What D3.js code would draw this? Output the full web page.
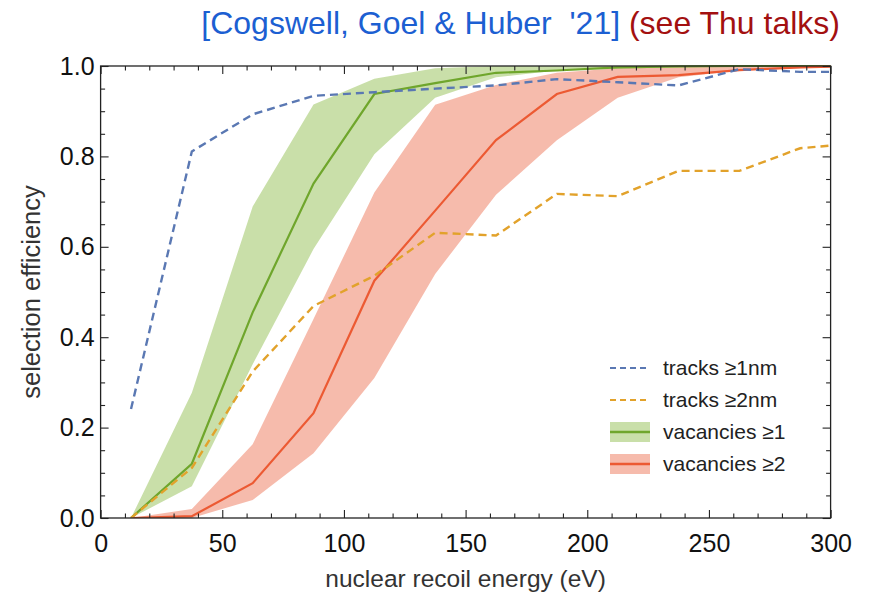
<!DOCTYPE html>
<html>
<head>
<meta charset="utf-8">
<script src="https://cdn.jsdelivr.net/npm/d3@7"></script>
<style>
  html, body { margin: 0; padding: 0; background: #fff; }
  svg { display: block; }
  text { font-family: "Liberation Sans", Arial, Helvetica, sans-serif; }
</style>
</head>
<body>
<script>
// Recoil energies (eV) at which each selection was evaluated
const energy = [12.5, 37.5, 62.5, 87.5, 112.5, 137.5, 162.5, 187.5, 212.5, 237.5, 262.5, 287.5, 312.5];

// Track-length selections
const tracks1nm = [0.241, 0.811, 0.893, 0.934, 0.942, 0.950, 0.957, 0.971, 0.964, 0.957, 0.993, 0.987, 0.987];
const tracks2nm = [0.0, 0.111, 0.324, 0.469, 0.536, 0.631, 0.625, 0.717, 0.712, 0.768, 0.768, 0.818, 0.830];

// Vacancy selections: central value with lower / upper band
const vac1   = [0.0, 0.120, 0.455, 0.740, 0.938, 0.962, 0.985, 0.990, 0.997, 0.999, 1.0, 1.0, 1.0];
const vac1Lo = [0.0, 0.070, 0.340, 0.595, 0.805, 0.930, 0.975, 0.990, 0.994, 0.997, 0.999, 1.0, 1.0];
const vac1Hi = [0.0, 0.277, 0.689, 0.915, 0.972, 0.995, 1.0, 1.0, 1.0, 1.0, 1.0, 1.0, 1.0];

const vac2   = [0.0, 0.004, 0.077, 0.232, 0.525, 0.680, 0.836, 0.938, 0.976, 0.980, 0.991, 0.997, 1.0];
const vac2Lo = [0.0, 0.0, 0.040, 0.143, 0.310, 0.540, 0.715, 0.836, 0.930, 0.975, 0.990, 0.995, 1.0];
const vac2Hi = [0.0, 0.020, 0.163, 0.440, 0.720, 0.914, 0.958, 0.985, 0.995, 0.998, 1.0, 1.0, 1.0];

// Axis ticks
const xMajor = [0, 50, 100, 150, 200, 250, 300];
const xMinor = d3.range(0, 301, 10).filter(v => v % 50 !== 0);
const yMajor = [0, 0.2, 0.4, 0.6, 0.8, 1.0];
const yMinor = d3.range(0, 1.0001, 0.05).map(v => +v.toFixed(2)).filter(v => Math.round(v * 100) % 20 !== 0);

const legendLabels = ["tracks \u22651nm", "tracks \u22652nm", "vacancies \u22651", "vacancies \u22652"];

const W = 871, H = 604;
const pLeft = 100.6, pRight = 830.6, pTop = 66, pBottom = 518;

const svg = d3.select("body").append("svg").attr("width", W).attr("height", H);

const x = d3.scaleLinear().domain([0, 300]).range([pLeft, pRight]);
const y = d3.scaleLinear().domain([0, 1]).range([pBottom, pTop]);

const colors = {
  blue: "#5a78b3",
  gold: "#e2a22b",
  green: "#6fa62c",
  greenBand: "rgba(140,186,72,0.47)",
  red: "#ec5a33",
  redBand: "rgba(236,104,72,0.45)"
};

svg.append("defs").append("clipPath").attr("id", "plot-clip")
  .append("rect").attr("x", pLeft).attr("y", pTop - 1).attr("width", pRight - pLeft).attr("height", pBottom - pTop + 1);

const plot = svg.append("g").attr("clip-path", "url(#plot-clip)");

const rows = energy.map((e, i) => ({
  e, t1: tracks1nm[i], t2: tracks2nm[i],
  v1: vac1[i], v1lo: vac1Lo[i], v1hi: vac1Hi[i],
  v2: vac2[i], v2lo: vac2Lo[i], v2hi: vac2Hi[i]
}));

const band = (lo, hi) => d3.area().x(d => x(d.e)).y0(d => y(d[lo])).y1(d => y(d[hi]));
const line = key => d3.line().x(d => x(d.e)).y(d => y(d[key]));

// Uncertainty bands
plot.append("path").datum(rows).attr("d", band("v2lo", "v2hi")).attr("fill", colors.redBand);
plot.append("path").datum(rows).attr("d", band("v1lo", "v1hi")).attr("fill", colors.greenBand);

// Central vacancy curves
plot.append("path").datum(rows).attr("d", line("v1"))
  .attr("fill", "none").attr("stroke", colors.green).attr("stroke-width", 2.2);
plot.append("path").datum(rows).attr("d", line("v2"))
  .attr("fill", "none").attr("stroke", colors.red).attr("stroke-width", 2.2);

// Track curves (dashed)
plot.append("path").datum(rows).attr("d", line("t2"))
  .attr("fill", "none").attr("stroke", colors.gold).attr("stroke-width", 2.4)
  .attr("stroke-dasharray", "8,5");
plot.append("path").datum(rows).attr("d", line("t1"))
  .attr("fill", "none").attr("stroke", colors.blue).attr("stroke-width", 2.4)
  .attr("stroke-dasharray", "8,5");

// Frame and inward ticks on all four sides
const frame = svg.append("g").attr("class", "frame");
const tickStyle = g => {
  g.select(".domain").remove();
  g.selectAll(".tick line").attr("stroke", "#222").attr("stroke-width", 1.1);
};

frame.append("g").attr("transform", `translate(0,${pBottom})`)
  .call(d3.axisBottom(x).tickValues(xMajor).tickSize(-8).tickPadding(16).tickFormat(d3.format("d")))
  .call(tickStyle)
  .call(g => g.selectAll(".tick text").attr("font-size", 25).attr("fill", "#111")
    .attr("font-family", "'Liberation Sans', Arial, sans-serif"));
frame.append("g").attr("transform", `translate(0,${pBottom})`)
  .call(d3.axisBottom(x).tickValues(xMinor).tickSize(-4.5).tickFormat(""))
  .call(tickStyle);
frame.append("g").attr("transform", `translate(0,${pTop})`)
  .call(d3.axisTop(x).tickValues(xMajor).tickSize(-8).tickFormat(""))
  .call(tickStyle);
frame.append("g").attr("transform", `translate(0,${pTop})`)
  .call(d3.axisTop(x).tickValues(xMinor).tickSize(-4.5).tickFormat(""))
  .call(tickStyle);

frame.append("g").attr("transform", `translate(${pLeft},0)`)
  .call(d3.axisLeft(y).tickValues(yMajor).tickSize(-8).tickPadding(6).tickFormat(d3.format(".1f")))
  .call(tickStyle)
  .call(g => g.selectAll(".tick text").attr("font-size", 25).attr("fill", "#111")
    .attr("font-family", "'Liberation Sans', Arial, sans-serif"));
frame.append("g").attr("transform", `translate(${pLeft},0)`)
  .call(d3.axisLeft(y).tickValues(yMinor).tickSize(-4.5).tickFormat(""))
  .call(tickStyle);
frame.append("g").attr("transform", `translate(${pRight},0)`)
  .call(d3.axisRight(y).tickValues(yMajor).tickSize(-8).tickFormat(""))
  .call(tickStyle);
frame.append("g").attr("transform", `translate(${pRight},0)`)
  .call(d3.axisRight(y).tickValues(yMinor).tickSize(-4.5).tickFormat(""))
  .call(tickStyle);

frame.append("rect").attr("x", pLeft).attr("y", pTop).attr("width", pRight - pLeft).attr("height", pBottom - pTop)
  .attr("fill", "none").attr("stroke", "#222").attr("stroke-width", 1.3);

// Axis titles
svg.append("text").attr("x", (pLeft + pRight) / 2).attr("y", 587)
  .attr("text-anchor", "middle").attr("font-size", 24.5).attr("fill", "#333")
  .text("nuclear recoil energy (eV)");
svg.append("text").attr("transform", `translate(40,${(pTop + pBottom) / 2}) rotate(-90)`)
  .attr("text-anchor", "middle").attr("font-size", 25.5).attr("fill", "#333")
  .text("selection efficiency");

// Citation heading
const head = svg.append("text").attr("x", 840).attr("y", 34).attr("text-anchor", "end")
  .attr("font-size", 32).style("white-space", "pre");
head.append("tspan").attr("fill", "#1c5fd2").text("[Cogswell, Goel & Huber  '21] ");
head.append("tspan").attr("fill", "#a31010").text("(see Thu talks)");

// Legend
const legend = svg.append("g");
const legendY = [368, 400, 432, 464];
const lx0 = 610, lx1 = 650, tx = 663;
const styles = [
  { stroke: colors.blue, dash: "6,4" },
  { stroke: colors.gold, dash: "6,4" },
  { stroke: colors.green, fill: colors.greenBand },
  { stroke: colors.red, fill: colors.redBand }
];
legendLabels.forEach((lab, i) => {
  const yy = legendY[i];
  const s = styles[i];
  if (s.fill) {
    legend.append("rect").attr("x", lx0).attr("y", yy - 10).attr("width", lx1 - lx0).attr("height", 20)
      .attr("fill", s.fill);
    legend.append("line").attr("x1", lx0).attr("x2", lx1).attr("y1", yy).attr("y2", yy)
      .attr("stroke", s.stroke).attr("stroke-width", 2.5);
  } else {
    legend.append("line").attr("x1", lx0).attr("x2", lx1).attr("y1", yy).attr("y2", yy)
      .attr("stroke", s.stroke).attr("stroke-width", 2).attr("stroke-dasharray", s.dash);
  }
  legend.append("text").attr("x", tx).attr("y", yy + 7).attr("font-size", 21).attr("fill", "#222")
    .text(lab);
});
</script>
</body>
</html>
